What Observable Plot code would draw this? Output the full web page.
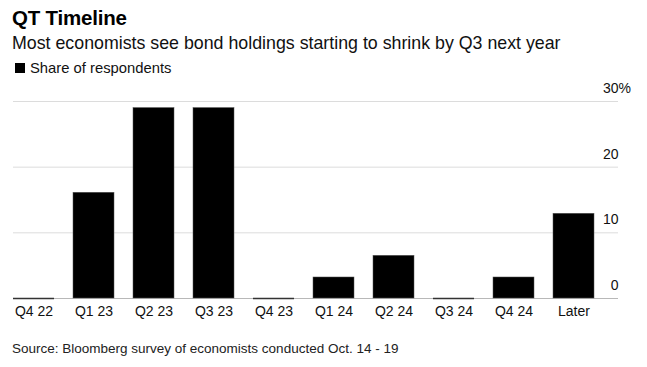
<!DOCTYPE html>
<html>
<head>
<meta charset="utf-8">
<script src="https://cdn.jsdelivr.net/npm/d3@7"></script>
<script src="https://cdn.jsdelivr.net/npm/@observablehq/plot@0.6"></script>
<style>
  html, body { margin: 0; padding: 0; background: #fff; }
  body { width: 647px; height: 367px; position: relative; overflow: hidden; font-family: "Liberation Sans", Arial, sans-serif; color: #000; }
  #title { position: absolute; left: 12px; top: 6px; font-size: 20.5px; font-weight: bold; letter-spacing: -0.2px; }
  #subtitle { position: absolute; left: 12px; top: 33px; font-size: 17.8px; color: #111; }
  #legend { position: absolute; left: 15px; top: 60px; font-size: 14.8px; display: flex; align-items: center; color: #111; }
  #legend .sw { width: 10px; height: 10px; background: #000; margin-right: 5px; }
  #chart { position: absolute; left: 0; top: 80px; }
  #source { position: absolute; left: 12px; top: 341px; font-size: 13.5px; color: #222; }
</style>
</head>
<body>
<div id="title">QT Timeline</div>
<div id="subtitle">Most economists see bond holdings starting to shrink by Q3 next year</div>
<div id="legend"><span class="sw"></span>Share of respondents</div>
<div id="chart"></div>
<div id="source">Source: Bloomberg survey of economists conducted Oct. 14 - 19</div>
<script>
const categories = ["Q4 22", "Q1 23", "Q2 23", "Q3 23", "Q4 23", "Q1 24", "Q2 24", "Q3 24", "Q4 24", "Later"];
const shares = [0, 16.1, 29.0, 29.0, 0, 3.2, 6.5, 0, 3.2, 12.9];
const yTicks = [0, 10, 20, 30];
const yTickLabels = ["0", "10", "20", "30"];

const data = categories.map((c, i) => ({category: c, share: shares[i]}));
const ticks = yTicks.map((t, i) => ({t, label: yTickLabels[i]}));

const chart = Plot.plot({
  width: 647,
  height: 240,
  marginLeft: 13,
  marginRight: 29,
  marginTop: 21,
  marginBottom: 22,
  style: {fontFamily: "'Liberation Sans', Arial, sans-serif", fontSize: "14px", color: "#111", background: "#fff"},
  x: {type: "band", domain: categories, range: [13, 594], paddingInner: 0.317, paddingOuter: 0, label: null, axis: null},
  y: {domain: [0, 30], label: null, axis: null},
  marks: [
    Plot.ruleY(yTicks.filter(t => t > 0), {stroke: "#dcdcdc", strokeWidth: 1}),
    Plot.ruleY([0], {stroke: "#b8b8b8", strokeWidth: 1}),
    Plot.barY(data.filter(d => d.share > 0), {x: "category", y: "share", fill: "#000", stroke: "#555", strokeWidth: 0.5}),
    Plot.tickY(data.filter(d => d.share === 0), {x: "category", y: "share", stroke: "#333", strokeWidth: 1.5}),
    Plot.text(ticks, {y: "t", text: "label", frameAnchor: "right", textAnchor: "end", dy: -13, fill: "#111", fontSize: 14}),
    Plot.text(ticks.filter(d => d.t === 30), {y: "t", text: () => "%", frameAnchor: "right", textAnchor: "start", dy: -13, dx: 0, fill: "#111", fontSize: 14}),
    Plot.axisX({domain: categories, tickSize: 0, tickPadding: 8, fontSize: 14, fill: "#111", label: null})
  ]
});
document.getElementById("chart").appendChild(chart);
</script>
</body>
</html>
